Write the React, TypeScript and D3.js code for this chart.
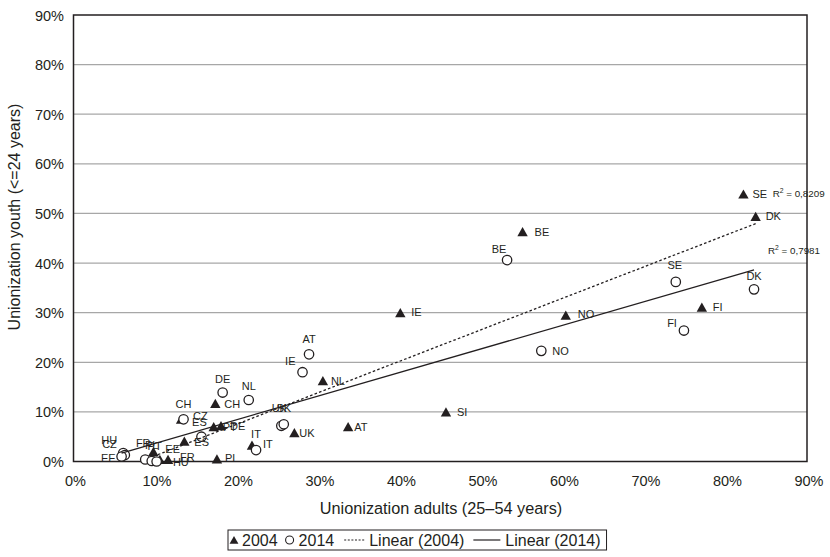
import React, { useMemo } from "react";
import * as d3 from "d3";

// Union density, 2004 survey wave (% of adults 25–54 vs % of youth <=24)
const countries2004 = ["SE", "DK", "FI", "NO", "BE", "IE", "SI", "AT", "NL", "UK", "IT", "CH", "PT", "DE", "CZ", "ES", "PL", "EE", "HU", "FR"];
const adults2004 = [82.2, 83.7, 77.1, 60.4, 55.1, 40.1, 45.7, 33.7, 30.6, 27.1, 21.9, 17.4, 17.2, 18.1, 13.2, 13.6, 17.6, 9.8, 10.6, 11.6];
const youth2004 = [53.9, 49.4, 31.1, 29.5, 46.3, 30.0, 10.0, 7.0, 16.3, 5.8, 3.3, 11.7, 7.0, 7.2, 8.5, 4.1, 0.5, 2.0, 0.4, 0.4];

// Union density, 2014 survey wave
const countries2014 = ["SE", "DK", "FI", "NO", "BE", "AT", "IE", "NL", "DE", "UK", "SK", "IT", "CH", "ES", "HU", "CZ", "EE", "FR", "PL", "PT"];
const adults2014 = [73.9, 83.5, 74.9, 57.4, 53.2, 28.9, 28.1, 21.5, 18.3, 25.5, 25.8, 22.4, 13.5, 15.7, 6.1, 6.3, 5.9, 8.8, 9.6, 10.2];
const youth2014 = [36.2, 34.7, 26.4, 22.3, 40.6, 21.6, 18.0, 12.4, 13.9, 7.2, 7.5, 2.3, 8.5, 5.0, 1.7, 1.3, 1.0, 0.4, 0.1, 0.0];

// Linear trend lines (least-squares fits shown in the chart)
const trendSlope = [0.635, 0.476];
const trendIntercept = [-5.2, -1.1];
const trendR2 = [0.8209, 0.7981];

const axisTicks = [0, 10, 20, 30, 40, 50, 60, 70, 80, 90];
const legendLabels = ["2004", "2014", "Linear (2004)", "Linear (2014)"];

// Label placement per point: [dx, dy(baseline), anchor]
type Place = [number, number, "start" | "middle" | "end"];
const place2004: Record<string, Place> = {
  SE: [9, 4, "start"], DK: [10, 4, "start"], FI: [11, 4, "start"], NO: [12, 3, "start"],
  BE: [12, 4, "start"], IE: [11, 3, "start"], SI: [11, 4, "start"], AT: [6, 4, "start"],
  NL: [8, 4, "start"], UK: [5, 4, "start"], IT: [4, -7, "middle"], CH: [9, 5, "start"],
  PT: [9, 4, "start"], DE: [9, 4, "start"], CZ: [12, 1, "start"], ES: [10, 5, "start"],
  PL: [8, 3, "start"], EE: [12, 1, "start"], HU: [13, 6, "start"], FR: [12, 1, "start"],
};
const place2014: Record<string, Place> = {
  SE: [-1, -13, "middle"], DK: [0, -9, "middle"], FI: [-7, -4, "end"], NO: [11, 4, "start"],
  BE: [-8, -7, "middle"], AT: [0, -11, "middle"], IE: [-7, -7, "end"], NL: [0, -10, "middle"],
  DE: [0, -10, "middle"], UK: [-2, -14, "middle"], SK: [0, -12, "middle"], IT: [7, -2, "start"],
  CH: [0, -11, "middle"], ES: [-2, -11, "middle"], HU: [-6, -9, "end"], CZ: [-8, -7, "end"],
  EE: [-6, 5, "end"], FR: [-2, -13, "middle"], PL: [0, -12, "middle"], PT: [-2, -12, "middle"],
};

const W = 830;
const H = 557;
const FONT = "'Liberation Sans', Arial, Helvetica, sans-serif";
const INK = "#231f20";

const triPath = "M0,-4.7L5.2,4.5L-5.2,4.5Z";

function measure(text: string, size: number): number {
  const c = document.createElement("canvas").getContext("2d");
  if (!c) return text.length * size * 0.55;
  c.font = `${size}px 'Liberation Sans', Arial, sans-serif`;
  return c.measureText(text).width;
}

export default function App() {
  const x = d3.scaleLinear().domain([0, 90]).range([73.5, 807]);
  const y = d3.scaleLinear().domain([0, 90]).range([461.5, 15]);
  const pct = (v: number) => `${v}%`;
  const r2fmt = (v: number) => d3.format(".4f")(v).replace(".", ",");

  const pts2004 = countries2004.map((c, i) => ({ c, x: x(adults2004[i]), y: y(youth2004[i]) }));
  const pts2014 = countries2014.map((c, i) => ({ c, x: x(adults2014[i]), y: y(youth2014[i]) }));

  const trends = [adults2004, adults2014].map((arr, k) => {
    const [lo, hi] = d3.extent(arr) as [number, number];
    const f = (v: number) => trendSlope[k] * v + trendIntercept[k];
    return { x1: x(lo), y1: y(f(lo)), x2: x(hi), y2: y(f(hi)) };
  });

  const legendFont = 16;
  const legend = useMemo(() => {
    const w = legendLabels.map((t) => measure(t, legendFont));
    const left = 228;
    let cx = left;
    const triX = cx + 6;
    const t0 = cx + 14;
    cx = t0 + w[0] + 12;
    const circX = cx;
    const t1 = cx + 9;
    cx = t1 + w[1] + 10;
    const dot0 = cx;
    const dot1 = cx + 20;
    const t2 = dot1 + 5;
    cx = t2 + w[2] + 9;
    const sol0 = cx;
    const sol1 = cx + 27;
    const t3 = sol1 + 5;
    const right = t3 + w[3] + 6;
    return { left, right, triX, t0, circX, t1, dot0, dot1, t2, sol0, sol1, t3 };
  }, []);

  const labelSize = 11;
  const tickSize = 14.5;
  const r2Size = 9.8;

  return (
    <svg
      width={W}
      height={H}
      viewBox={`0 0 ${W} ${H}`}
      style={{ position: "absolute", left: 0, top: 0, background: "#fff" }}
      fontFamily={FONT}
    >
      <rect width={W} height={H} fill="#fff" />

      {/* horizontal gridlines */}
      {axisTicks.slice(1, -1).map((t) => (
        <line key={t} x1={x(0)} x2={x(90)} y1={y(t)} y2={y(t)} stroke="#a7a7a7" strokeWidth={1.3} />
      ))}

      {/* plot frame */}
      <rect x={x(0)} y={y(90)} width={x(90) - x(0)} height={y(0) - y(90)} fill="none" stroke={INK} strokeWidth={1.5} />

      {/* y tick labels */}
      {axisTicks.map((t) => (
        <text key={t} x={64} y={y(t) + 5.5} textAnchor="end" fontSize={tickSize} fill={INK}>
          {pct(t)}
        </text>
      ))}
      {/* x tick labels */}
      {axisTicks.map((t) => (
        <text key={t} x={x(t) + 2} y={486} textAnchor="middle" fontSize={tickSize} fill={INK}>
          {pct(t)}
        </text>
      ))}

      {/* axis titles */}
      <text x={441} y={514} textAnchor="middle" fontSize={16.3} fill={INK}>
        Unionization adults (25–54 years)
      </text>
      <text transform="translate(20,217) rotate(-90)" textAnchor="middle" fontSize={16} fill={INK}>
        Unionization youth (&lt;=24 years)
      </text>

      {/* 2004 markers */}
      {pts2004.map((p) => (
        <path key={"t" + p.c} d={triPath} transform={`translate(${p.x},${p.y})`} fill={INK} />
      ))}
      {/* 2014 markers */}
      {pts2014.map((p) => (
        <circle key={"c" + p.c} cx={p.x} cy={p.y} r={4.7} fill="#fff" stroke={INK} strokeWidth={1.3} />
      ))}

      {/* trend lines */}
      <line {...trends[0]} stroke={INK} strokeWidth={1.3} strokeDasharray="2.6,2.2" />
      <line {...trends[1]} stroke={INK} strokeWidth={1.3} />

      {/* point labels */}
      {pts2004.map((p) => {
        const [dx, dy, a] = place2004[p.c];
        return (
          <text key={"lt" + p.c} x={p.x + dx} y={p.y + dy} textAnchor={a} fontSize={labelSize} fill={INK}>
            {p.c}
          </text>
        );
      })}
      {pts2014.map((p) => {
        const [dx, dy, a] = place2014[p.c];
        return (
          <text key={"lc" + p.c} x={p.x + dx} y={p.y + dy} textAnchor={a} fontSize={labelSize} fill={INK}>
            {p.c}
          </text>
        );
      })}

      {/* R² annotations */}
      <text x={trends[0].x2 + 17} y={trends[0].y2 - 27} fontSize={r2Size} fill={INK}>
        R<tspan dy={-4} fontSize={6.8}>2</tspan>
        <tspan dy={4}> = {r2fmt(trendR2[0])}</tspan>
      </text>
      <text x={trends[1].x2 + 14} y={trends[1].y2 - 16} fontSize={r2Size} fill={INK}>
        R<tspan dy={-4} fontSize={6.8}>2</tspan>
        <tspan dy={4}> = {r2fmt(trendR2[1])}</tspan>
      </text>

      {/* legend */}
      <g>
        <rect x={legend.left} y={530} width={legend.right - legend.left} height={20} fill="#fff" stroke={INK} strokeWidth={1} />
        <path d={triPath} transform={`translate(${legend.triX},540) scale(0.85)`} fill={INK} />
        <text x={legend.t0} y={545.5} fontSize={legendFont} fill={INK}>{legendLabels[0]}</text>
        <circle cx={legend.circX} cy={540} r={4} fill="#fff" stroke={INK} strokeWidth={1.1} />
        <text x={legend.t1} y={545.5} fontSize={legendFont} fill={INK}>{legendLabels[1]}</text>
        <line x1={legend.dot0} x2={legend.dot1} y1={540} y2={540} stroke={INK} strokeWidth={1.2} strokeDasharray="2,1.6" />
        <text x={legend.t2} y={545.5} fontSize={legendFont} fill={INK}>{legendLabels[2]}</text>
        <line x1={legend.sol0} x2={legend.sol1} y1={540} y2={540} stroke={INK} strokeWidth={1.2} />
        <text x={legend.t3} y={545.5} fontSize={legendFont} fill={INK}>{legendLabels[3]}</text>
      </g>
    </svg>
  );
}
